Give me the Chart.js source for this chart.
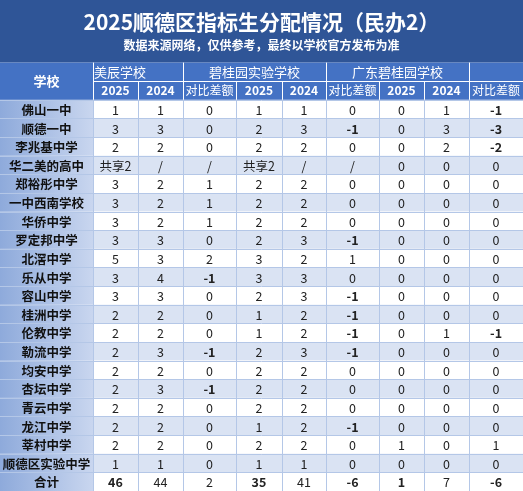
<!DOCTYPE html>
<html><head><meta charset="utf-8">
<script src="https://cdn.jsdelivr.net/npm/chart.js@4"></script>
<style>html,body{margin:0;padding:0;background:#fff}canvas{display:block}</style>
</head><body>
<canvas id="c" width="523" height="491"></canvas>
<script>
const titleText = '2025顺德区指标生分配情况（民办2）';
const subtitleText = '数据来源网络，仅供参考，最终以学校官方发布为准';
const groups = ['美辰学校', '碧桂园实验学校', '广东碧桂园学校'];
const subHeaders = ['2025', '2024', '对比差额', '2025', '2024', '对比差额', '2025', '2024', '对比差额'];
const schools = ['佛山一中','顺德一中','李兆基中学','华二美的高中','郑裕彤中学','一中西南学校','华侨中学','罗定邦中学','北滘中学','乐从中学','容山中学','桂洲中学','伦教中学','勒流中学','均安中学','杏坛中学','青云中学','龙江中学','莘村中学','顺德区实验中学','合计'];
const meichen2025 = ['1','3','2','共享2','3','3','3','3','5','3','3','2','2','2','2','2','2','2','2','1','46'];
const meichen2024 = ['1','3','2','/','2','2','2','3','3','4','3','2','2','3','2','3','2','2','2','1','44'];
const meichenDiff = ['0','0','0','/','1','1','1','0','2','-1','0','0','0','-1','0','-1','0','0','0','0','2'];
const bgy2025 = ['1','2','2','共享2','2','2','2','2','3','3','2','1','1','2','2','2','2','1','2','1','35'];
const bgy2024 = ['1','3','2','/','2','2','2','3','2','3','3','2','2','3','2','2','2','2','2','1','41'];
const bgyDiff = ['0','-1','0','/','0','0','0','-1','1','0','-1','-1','-1','-1','0','0','0','-1','0','0','-6'];
const gd2025 = ['0','0','0','0','0','0','0','0','0','0','0','0','0','0','0','0','0','0','1','0','1'];
const gd2024 = ['1','3','2','0','0','0','0','0','0','0','0','0','1','0','0','0','0','0','0','0','7'];
const gdDiff = ['-1','-3','-2','0','0','0','0','0','0','0','0','0','-1','0','0','0','0','0','1','0','-6'];
const columns = [meichen2025, meichen2024, meichenDiff, bgy2025, bgy2024, bgyDiff, gd2025, gd2024, gdDiff];
const rowLabels = ['h1','h2', ...schools];

// layout (column edges in x-scale units)
const colEdges = [0,93,138,183,236,282,326,379,424,469,523];
const groupEdges = [93,183,326,469,523];
const FONT = '"Microsoft YaHei","Noto Sans CJK SC",sans-serif';

const tablePlugin = {
  id: 'table',
  beforeDraw(chart) {
    const ctx = chart.ctx;
    ctx.save();
    ctx.fillStyle = '#2f5597';
    ctx.fillRect(0, 0, chart.width, chart.chartArea.top);
    ctx.restore();
  },
  afterDraw(chart) {
    const ctx = chart.ctx, xs = chart.scales.x, ys = chart.scales.y;
    const X = v => xs.getPixelForValue(v);
    const rowH = Math.abs(ys.getPixelForValue(1) - ys.getPixelForValue(0));
    const top = i => ys.getPixelForValue(i) - rowH / 2;
    ctx.save();
    ctx.textAlign = 'center'; ctx.textBaseline = 'middle';
    ctx.fillStyle = '#4472c4';
    ctx.fillRect(X(0), top(0), X(523) - X(0), rowH * 2);
    ctx.strokeStyle = '#ffffff'; ctx.lineWidth = 1;
    groupEdges.forEach(e => { ctx.beginPath(); ctx.moveTo(Math.round(X(e)) + .5, top(0)); ctx.lineTo(Math.round(X(e)) + .5, top(1)); ctx.stroke(); });
    ctx.beginPath(); ctx.moveTo(X(93), Math.round(top(1)) + .5); ctx.lineTo(X(523), Math.round(top(1)) + .5); ctx.stroke();
    colEdges.slice(1).forEach(e => { ctx.beginPath(); ctx.moveTo(Math.round(X(e)) + .5, top(1)); ctx.lineTo(Math.round(X(e)) + .5, top(2)); ctx.stroke(); });
    ctx.fillStyle = '#fff';
    ctx.font = 'bold 13px ' + FONT;
    ctx.fillText('学校', (X(0) + X(93)) / 2, top(0) + rowH);
    ctx.font = '13px ' + FONT;
    groups.forEach((g, i) => {
      if (i === 0) { ctx.textAlign = 'left'; ctx.fillText(g, X(93) + 1, top(0) + rowH / 2); ctx.textAlign = 'center'; }
      else ctx.fillText(g, (X(groupEdges[i]) + X(groupEdges[i + 1])) / 2, top(0) + rowH / 2);
    });
    subHeaders.forEach((h, i) => {
      ctx.font = (h.length === 4 && /\d/.test(h) ? 'bold 12px ' : '12px ') + FONT;
      ctx.fillText(h, (X(colEdges[i + 1]) + X(colEdges[i + 2])) / 2, top(1) + rowH / 2);
    });
    schools.forEach((s, r) => {
      const ri = r + 2, y0 = top(ri);
      const g = ctx.createLinearGradient(X(0), 0, X(93), 0);
      g.addColorStop(0, '#8eaadb'); g.addColorStop(1, '#c9d6ef');
      ctx.fillStyle = g; ctx.fillRect(X(0), y0, X(93) - X(0), rowH);
      ctx.fillStyle = r % 2 === 0 ? '#ffffff' : '#dae3f3';
      ctx.fillRect(X(93), y0, X(523) - X(93), rowH);
      ctx.fillStyle = '#111';
      ctx.font = 'bold 12.5px ' + FONT;
      ctx.fillText(s, (X(0) + X(93)) / 2, y0 + rowH / 2 + 1);
      columns.forEach((col, c) => {
        const v = col[r];
        const isTotal = r === schools.length - 1;
        const bold = (c % 3 === 2 && v.startsWith('-')) || (isTotal && [0, 3, 5, 6, 8].includes(c));
        ctx.font = (bold ? 'bold ' : '') + '12.5px ' + FONT;
        ctx.fillStyle = '#222';
        ctx.fillText(v, (X(colEdges[c + 1]) + X(colEdges[c + 2])) / 2, y0 + rowH / 2 + 1);
      });
    });
    ctx.strokeStyle = '#b4c7e7'; ctx.lineWidth = 1;
    for (let ri = 2; ri <= rowLabels.length; ri++) {
      const y = Math.round(top(ri)) + .5;
      ctx.beginPath(); ctx.moveTo(X(0), y); ctx.lineTo(X(523), y); ctx.stroke();
    }
    colEdges.slice(1).forEach(e => {
      const x = Math.round(X(e)) + .5;
      ctx.beginPath(); ctx.moveTo(x, top(2)); ctx.lineTo(x, top(rowLabels.length)); ctx.stroke();
    });
    ctx.restore();
  }
};

new Chart(document.getElementById('c'), {
  type: 'scatter',
  data: { datasets: [{ data: [] }] },
  options: {
    responsive: false, animation: false,
    layout: { padding: 0 },
    plugins: {
      legend: { display: false }, tooltip: { enabled: false },
      title: { display: true, text: titleText, color: '#fff', font: { size: 21, weight: 'bold', family: FONT }, padding: { top: 9, bottom: 4 } },
      subtitle: { display: true, text: subtitleText, color: '#fff', font: { size: 12, weight: 'bold', family: FONT }, padding: { top: 0, bottom: 10 } }
    },
    scales: {
      x: { type: 'linear', min: 0, max: 523, display: false },
      y: { type: 'category', labels: rowLabels, offset: true, display: false }
    }
  },
  plugins: [tablePlugin]
});
</script>
</body></html>
